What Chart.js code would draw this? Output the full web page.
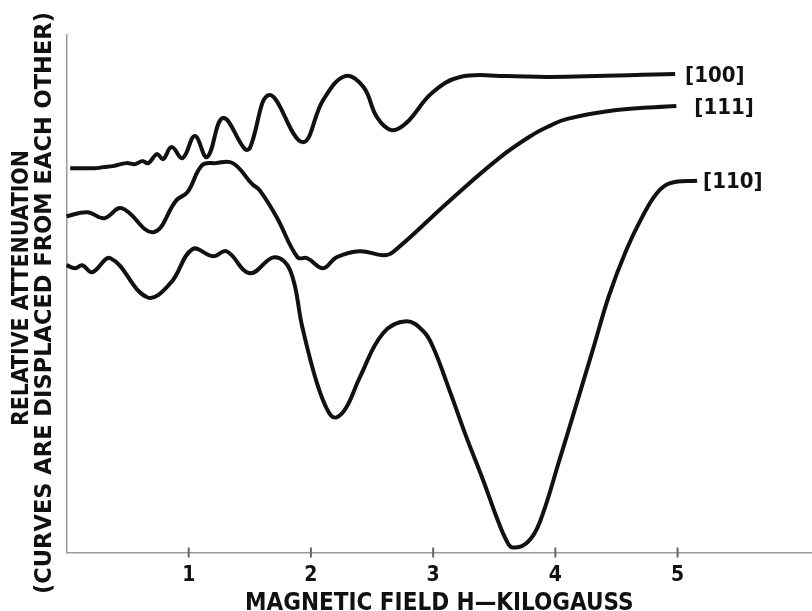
<!DOCTYPE html>
<html lang="en">
<head>
    <meta charset="UTF-8">
    <title>Relative Attenuation vs Magnetic Field</title>
    <script src="https://cdn.jsdelivr.net/npm/chart.js"></script>
    <style>
        html, body { margin: 0; padding: 0; background: #fff; }
        #wrap { width: 812px; height: 611px; }
    </style>
</head>
<body>
    <div id="wrap"><canvas id="chart" width="812" height="611"></canvas></div>

    <script>
        // field values (kilogauss) and relative attenuation (arbitrary, curves displaced)
        const field100 = [0.03, 0.11, 0.19, 0.25, 0.30, 0.38, 0.49, 0.56, 0.62, 0.67, 0.74, 0.79, 0.86, 0.95, 1.05, 1.15, 1.28, 1.46, 1.50, 1.66, 1.93, 2.10, 2.28, 2.43, 2.54, 2.66, 2.78, 2.99, 3.22, 3.60, 3.95, 4.98];
        const atten100 = [38.4, 38.4, 38.4, 38.4, 38.5, 38.6, 38.9, 38.8, 39.1, 38.9, 39.8, 39.3, 40.5, 39.4, 41.6, 39.5, 43.4, 40.3, 40.4, 45.7, 41.0, 45.2, 47.6, 46.5, 43.5, 42.2, 42.9, 45.9, 47.5, 47.6, 47.5, 47.8];

        const field111 = [0.00, 0.17, 0.31, 0.45, 0.71, 0.90, 0.99, 1.11, 1.22, 1.36, 1.52, 1.58, 1.72, 1.89, 1.97, 2.10, 2.21, 2.40, 2.59, 2.67, 3.14, 3.55, 3.81, 3.95, 4.09, 4.50, 4.99];
        const atten111 = [33.6, 34.0, 33.4, 34.4, 32.0, 35.2, 36.0, 38.7, 38.9, 38.9, 36.8, 36.2, 33.5, 29.5, 29.4, 28.4, 29.5, 30.1, 29.7, 30.0, 35.2, 39.5, 41.7, 42.6, 43.3, 44.2, 44.6];

        const field110 = [0.00, 0.07, 0.13, 0.21, 0.36, 0.66, 0.85, 1.03, 1.20, 1.31, 1.50, 1.70, 1.83, 1.93, 2.05, 2.15, 2.21, 2.29, 2.40, 2.59, 2.78, 2.92, 3.00, 3.14, 3.27, 3.41, 3.52, 3.60, 3.65, 3.77, 3.87, 4.04, 4.14, 4.31, 4.44, 4.58, 4.71, 4.83, 4.94, 5.16];
        const atten110 = [28.7, 28.4, 28.7, 28.0, 29.4, 25.5, 26.9, 30.3, 29.6, 30.1, 27.9, 29.5, 28.2, 22.5, 16.9, 13.9, 13.5, 14.5, 17.5, 21.9, 23.1, 22.1, 20.5, 16.0, 11.6, 7.2, 3.5, 1.2, 0.5, 1.0, 2.95, 9.5, 13.5, 20.4, 25.7, 30.2, 33.5, 35.9, 36.9, 37.15];

        const curveNames = ['[100]', '[111]', '[110]'];
        const fieldTicks = [1, 2, 3, 4, 5];
        const yTitleLines = ['RELATIVE ATTENUATION', '(CURVES ARE DISPLACED FROM EACH OTHER)'];

        const fontFamily = "'DejaVu Sans Condensed', 'DejaVu Sans', sans-serif";

        function pts(xs, ys) {
            return xs.map((x, i) => ({ x: x, y: ys[i] }));
        }

        function curve(xs, ys, name) {
            return {
                label: name,
                data: pts(xs, ys),
                borderColor: '#111',
                borderWidth: 4,
                pointRadius: 0,
                tension: 0.4,
                fill: false,
                clip: false
            };
        }

        // end-of-curve labels, the little crosses on the field axis, and the two-line y title
        const decorations = {
            id: 'decorations',
            afterDatasetsDraw(chart) {
                const ctx = chart.ctx;
                const xs = chart.scales.x;
                const ys = chart.scales.y;

                ctx.save();
                ctx.strokeStyle = '#666';
                ctx.lineWidth = 2;
                fieldTicks.forEach(v => {
                    const px = xs.getPixelForValue(v);
                    ctx.beginPath();
                    ctx.moveTo(px, ys.bottom - 5);
                    ctx.lineTo(px, ys.bottom + 5);
                    ctx.stroke();
                });

                ctx.fillStyle = '#111';
                ctx.font = 'bold 22px ' + fontFamily;
                ctx.textBaseline = 'middle';
                const gaps = [10, 18, 6];
                chart.data.datasets.forEach((ds, i) => {
                    const last = ds.data[ds.data.length - 1];
                    const px = xs.getPixelForValue(last.x);
                    const py = ys.getPixelForValue(last.y);
                    ctx.fillText(curveNames[i], px + gaps[i], py + 2);
                });

                // y title: rotated, each line stretched to the length it has on the original
                ctx.font = 'bold 23px ' + fontFamily;
                ctx.textAlign = 'center';
                const spots = [{ x: 22, y: 288, w: 276 }, { x: 45, y: 303, w: 582 }];
                yTitleLines.forEach((t, i) => {
                    const s = spots[i];
                    const natural = ctx.measureText(t).width;
                    ctx.save();
                    ctx.translate(s.x, s.y);
                    ctx.rotate(-Math.PI / 2);
                    ctx.scale(s.w / natural, 1);
                    ctx.fillText(t, 0, 0);
                    ctx.restore();
                });
                ctx.restore();
            }
        };

        new Chart(document.getElementById('chart'), {
            type: 'line',
            data: {
                datasets: [
                    curve(field100, atten100, curveNames[0]),
                    curve(field111, atten111, curveNames[1]),
                    curve(field110, atten110, curveNames[2])
                ]
            },
            options: {
                responsive: false,
                animation: false,
                devicePixelRatio: 1,
                layout: { padding: { top: 35, left: 0, right: 0, bottom: 0 } },
                plugins: {
                    legend: { display: false },
                    tooltip: { enabled: false }
                },
                scales: {
                    x: {
                        type: 'linear',
                        min: 0,
                        max: 6.1,
                        afterBuildTicks: (s) => { s.ticks = fieldTicks.map(v => ({ value: v })); },
                        afterFit: (s) => { s.height = 58.5; },
                        grid: { display: false, drawTicks: false },
                        border: { display: true, color: '#9a9a9a', width: 1.5 },
                        ticks: {
                            color: '#111',
                            padding: 10,
                            font: { family: fontFamily, size: 21, weight: 'bold' }
                        },
                        title: {
                            display: true,
                            text: 'MAGNETIC FIELD H—KILOGAUSS',
                            color: '#111',
                            padding: { top: 0, bottom: 0 },
                            font: { family: fontFamily, size: 24, weight: 'bold', lineHeight: 0.6 }
                        }
                    },
                    y: {
                        type: 'linear',
                        min: 0,
                        max: 51.7,
                        afterFit: (s) => { s.width = 66.5; },
                        grid: { display: false, drawTicks: false },
                        border: { display: true, color: '#9a9a9a', width: 1.5 },
                        ticks: { display: false },
                        title: { display: false }
                    }
                }
            },
            plugins: [decorations]
        });
    </script>
</body>
</html>
